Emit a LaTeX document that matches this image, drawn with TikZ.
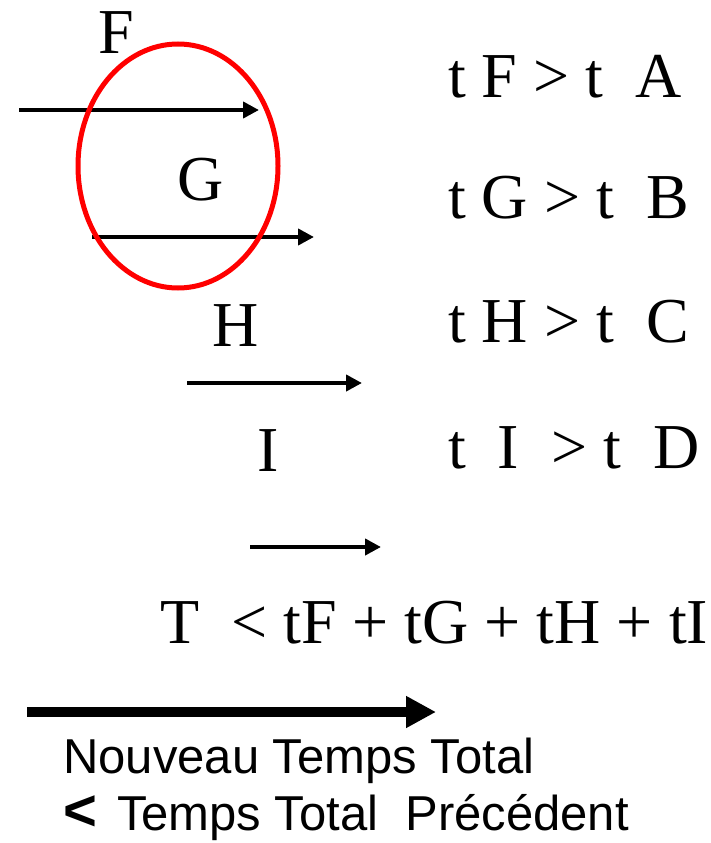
\documentclass[tikz,border=0pt]{standalone}
\usepackage{fontspec}
\setmainfont{Liberation Serif}
\setsansfont{Liberation Sans}
\usetikzlibrary{positioning,arrows.meta}
\definecolor{ringred}{HTML}{FF0000}
\tikzset{
  task/.style     = {anchor=base west, inner sep=0pt, font=\fontsize{64}{64}\selectfont},
  cond/.style     = {anchor=base west, inner sep=0pt, font=\fontsize{64}{64}\selectfont},
  note/.style     = {anchor=base west, inner sep=0pt, font=\sffamily\fontsize{49}{49}\selectfont},
  timebar/.style  = {-{Triangle[length=16pt,width=16pt]}, line width=4.5pt},
  totalbar/.style = {-{Triangle[length=30pt,width=30pt]}, line width=10pt},
  ring/.style     = {draw=ringred, line width=5pt},
}

\begin{document}
\begin{tikzpicture}[x=1pt,y=-1pt]
  \useasboundingbox (0,0) rectangle (711,843);

  % tasks and their durations
  \node[task] (F) at (98,53) {F};
  \node[task] (G) at (177,200) {G};
  \node[task] (H) at (212,346) {H};
  \node[task] (I) at (257,471) {I};
  \coordinate (f0) at (19,110);  \coordinate (f1) at (259,110);
  \coordinate (g0) at (92,237);  \coordinate (g1) at (314,237);
  \coordinate (h0) at (187,383); \coordinate (h1) at (362,383);
  \coordinate (i0) at (250,547); \coordinate (i1) at (381,547);
  \draw[timebar] (f0) -- (f1);
  \draw[timebar] (g0) -- (g1);
  \draw[timebar] (h0) -- (h1);
  \draw[timebar] (i0) -- (i1);

  % overlapping tasks
  \draw[ring] (178,166) ellipse [x radius=100pt, y radius=122pt];

  % conditions
  \node[cond] (cA) at (448,97)  {t F > t\ \ A};
  \node[cond] (cB) at (448,218) {t G > t\ \ B};
  \node[cond] (cC) at (448,342) {t H > t\ \ C};
  \node[cond] (cD) at (448,468) {t\ \ I\ \ > t\ \ D};
  \node[cond] (sum) at (160,643) {T\ \ < tF + tG + tH + tI};

  % new total time
  \coordinate (t0) at (27,712); \coordinate (t1) at (436,712);
  \draw[totalbar] (t0) -- (t1);
  \node[note] (new) at (63,773) {Nouveau Temps Total};
  \node[note] (old) at (63,830) {{\fontsize{58}{58}\selectfont\textbf{<}}\hspace{20pt}Temps Total\hspace{27pt}Précédent};
\end{tikzpicture}
\end{document}
